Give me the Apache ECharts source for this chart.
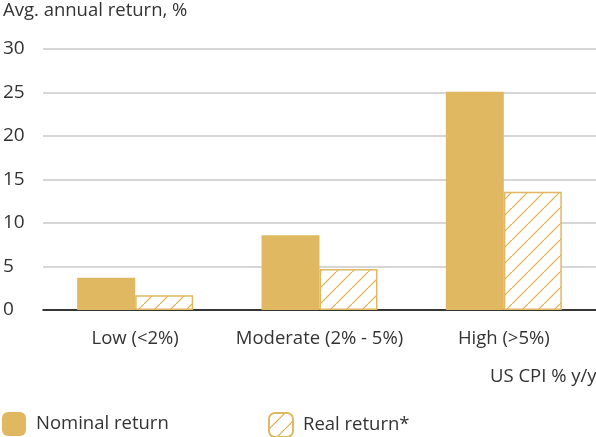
<!DOCTYPE html>
<html>
<head>
<meta charset="utf-8">
<script src="https://cdn.jsdelivr.net/npm/echarts@6/dist/echarts.min.js"></script>
<style>
html,body{margin:0;padding:0;background:#fff;}
#chart{width:596px;height:437px;}
</style>
</head>
<body>
<div id="chart"></div>
<script>
var categories = ['Low (<2%)', 'Moderate (2% - 5%)', 'High (>5%)'];
var nominalReturn = [3.7, 8.6, 25.1];
var realReturn = [1.7, 4.7, 13.6];
var yTicks = [0, 5, 10, 15, 20, 25, 30];

var gold = '#E0B862';
var font = 'Open Sans';

// hatch pattern for the real return bars
function hatch(){
    var c = document.createElement('canvas');
    c.width = 16; c.height = 16;
    var ctx = c.getContext('2d');
    ctx.fillStyle = '#fff';
    ctx.fillRect(0, 0, 16, 16);
    ctx.strokeStyle = '#DDAE50';
    ctx.lineWidth = 1.2;
    ctx.beginPath();
    ctx.moveTo(-2, 18); ctx.lineTo(18, -2);
    ctx.stroke();
    return c;
}

var chart = echarts.init(document.getElementById('chart'));
chart.setOption({
    animation: false,
    textStyle: {fontFamily: font},
    title: {
        text: 'Avg. annual return, %',
        left: -2, top: -4,
        textStyle: {fontFamily: font, fontSize: 18.5, fontWeight: 'normal', color: '#333'}
    },
    graphic: [{
        type: 'text',
        left: 490, top: 367,
        style: {text: 'US CPI % y/y', font: '18.5px "Open Sans"', fill: '#333'}
    }],
    grid: {left: 42, right: 0, top: 49, bottom: 127},
    legend: [{
        data: ['Nominal return'],
        left: 2, top: 412, padding: 0,
        icon: 'roundRect', itemWidth: 24, itemHeight: 24,
        textStyle: {fontFamily: font, fontSize: 18.5, color: '#333', padding: [0, 0, 0, 5]}
    }, {
        data: ['Real return*'],
        left: 268, top: 412, padding: 0,
        icon: 'roundRect', itemWidth: 24, itemHeight: 24,
        textStyle: {fontFamily: font, fontSize: 18.5, color: '#333', padding: [0, 0, 0, 5]}
    }],
    xAxis: {
        type: 'category',
        data: categories,
        axisLine: {lineStyle: {color: '#000', width: 1.5}},
        axisTick: {show: false},
        axisLabel: {fontFamily: font, fontSize: 18.5, color: '#333', margin: 19, interval: 0}
    },
    yAxis: {
        type: 'value',
        min: yTicks[0], max: yTicks[yTicks.length - 1], interval: 5,
        axisLine: {show: false},
        axisTick: {show: false},
        splitLine: {lineStyle: {color: '#c8c8c8', width: 1.5}},
        axisLabel: {fontFamily: font, fontSize: 19, color: '#333', align: 'left', margin: 40}
    },
    series: [{
        name: 'Nominal return',
        type: 'bar',
        data: nominalReturn,
        barWidth: 58,
        barGap: '0%',
        itemStyle: {color: gold}
    }, {
        name: 'Real return*',
        type: 'bar',
        data: realReturn,
        barWidth: 58,
        itemStyle: {color: {image: hatch(), repeat: 'repeat'}, borderColor: gold, borderWidth: 1.5}
    }]
});
</script>
</body>
</html>
